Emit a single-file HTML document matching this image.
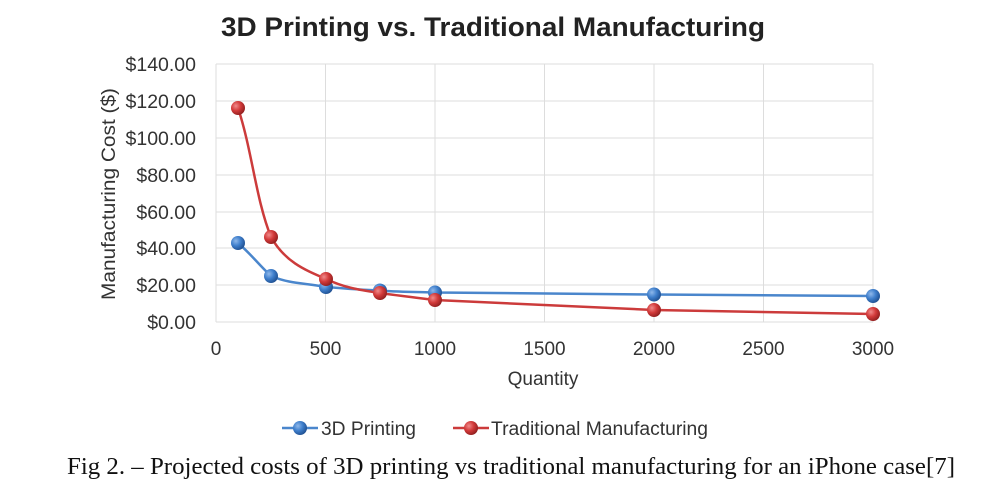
<!DOCTYPE html>
<html><head><style>body{margin:0;background:#fff}</style></head><body>
<svg width="984" height="497" xmlns="http://www.w3.org/2000/svg" font-family="Liberation Sans, sans-serif">
<defs>
<radialGradient id="b" cx="0.35" cy="0.35" r="0.7"><stop offset="0" stop-color="#8fb8ea"/><stop offset="0.5" stop-color="#3f7fcc"/><stop offset="1" stop-color="#1f4f90"/></radialGradient>
<radialGradient id="r" cx="0.35" cy="0.35" r="0.7"><stop offset="0" stop-color="#f08a8a"/><stop offset="0.5" stop-color="#d23a3a"/><stop offset="1" stop-color="#8f1e1e"/></radialGradient>
</defs>
<text x="221" y="36" textLength="544" lengthAdjust="spacingAndGlyphs" font-size="27" font-weight="bold" fill="#222">3D Printing vs. Traditional Manufacturing</text>
<g stroke="#ddd" stroke-width="1">
<line x1="216" y1="64" x2="873" y2="64"/><line x1="216" y1="101" x2="873" y2="101"/><line x1="216" y1="138" x2="873" y2="138"/><line x1="216" y1="175" x2="873" y2="175"/><line x1="216" y1="212" x2="873" y2="212"/><line x1="216" y1="248" x2="873" y2="248"/><line x1="216" y1="285" x2="873" y2="285"/><line x1="216" y1="322" x2="873" y2="322"/>
<line x1="216" y1="64" x2="216" y2="322"/><line x1="325.5" y1="64" x2="325.5" y2="322"/><line x1="435" y1="64" x2="435" y2="322"/><line x1="544.5" y1="64" x2="544.5" y2="322"/><line x1="654" y1="64" x2="654" y2="322"/><line x1="763.5" y1="64" x2="763.5" y2="322"/><line x1="873" y1="64" x2="873" y2="322"/>
</g>
<g font-size="19.5" fill="#333" text-anchor="end">
<text x="196" y="71">$140.00</text><text x="196" y="108">$120.00</text><text x="196" y="145">$100.00</text><text x="196" y="182">$80.00</text><text x="196" y="219">$60.00</text><text x="196" y="255">$40.00</text><text x="196" y="292">$20.00</text><text x="196" y="329">$0.00</text>
</g>
<g font-size="19" fill="#333" text-anchor="middle">
<text x="216" y="355">0</text><text x="325.5" y="355">500</text><text x="435" y="355">1000</text><text x="544.5" y="355">1500</text><text x="654" y="355">2000</text><text x="763.5" y="355">2500</text><text x="873" y="355">3000</text>
<text x="543" y="385">Quantity</text>
</g>
<text transform="translate(115,194) rotate(-90)" text-anchor="middle" font-size="19" fill="#333" textLength="212" lengthAdjust="spacingAndGlyphs">Manufacturing Cost ($)</text>
<path d="M238,243 C250,253 260,266 271,276 C290,284 305,283 326,287 C350,289 365,290 380,290.5 C400,292 420,292 435,292.5 L654,294.5 L873,296" fill="none" stroke="#4a86cc" stroke-width="2.5"/>
<path d="M238,108 C252,150 256,200 271,237 C285,262 305,270 326,279 C345,288 360,290 380,293 C400,296 420,298 435,300 L654,310 L873,314" fill="none" stroke="#cc3b3b" stroke-width="2.5"/>
<g fill="url(#b)"><circle cx="238" cy="243" r="7"/><circle cx="271" cy="276" r="7"/><circle cx="326" cy="287" r="7"/><circle cx="380" cy="290.5" r="7"/><circle cx="435" cy="292.5" r="7"/><circle cx="654" cy="294.5" r="7"/><circle cx="873" cy="296" r="7"/></g>
<g fill="url(#r)"><circle cx="238" cy="108" r="7"/><circle cx="271" cy="237" r="7"/><circle cx="326" cy="279" r="7"/><circle cx="380" cy="293" r="7"/><circle cx="435" cy="300" r="7"/><circle cx="654" cy="310" r="7"/><circle cx="873" cy="314" r="7"/></g>
<line x1="282" y1="428" x2="318" y2="428" stroke="#4a86cc" stroke-width="2.5"/><circle cx="300" cy="428" r="7" fill="url(#b)"/>
<text x="321" y="435" font-size="19" fill="#333" textLength="95" lengthAdjust="spacingAndGlyphs">3D Printing</text>
<line x1="453" y1="428" x2="489" y2="428" stroke="#cc3b3b" stroke-width="2.5"/><circle cx="471" cy="428" r="7" fill="url(#r)"/>
<text x="491" y="435" font-size="19" fill="#333" textLength="217" lengthAdjust="spacingAndGlyphs">Traditional Manufacturing</text>
<text x="67" y="474" textLength="888" lengthAdjust="spacingAndGlyphs" font-family="Liberation Serif, serif" font-size="24" fill="#111">Fig 2. – Projected costs of 3D printing vs traditional manufacturing for an iPhone case[7]</text>
</svg>
</body></html>
